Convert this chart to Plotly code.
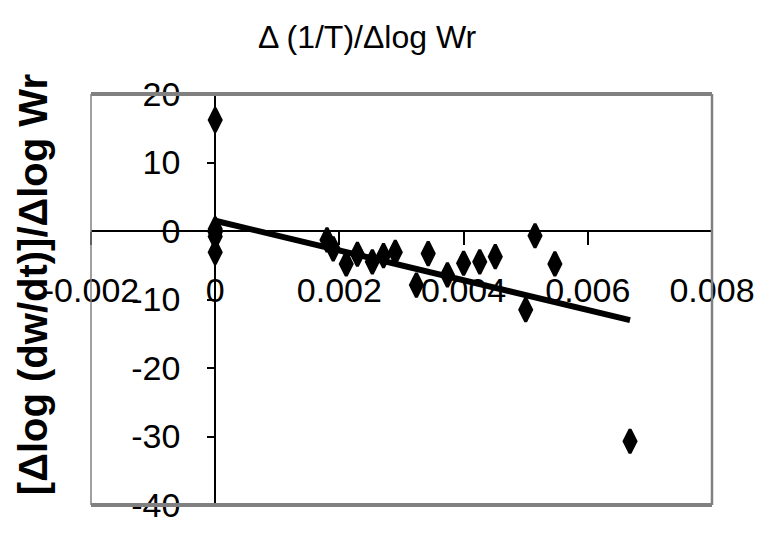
import plotly.graph_objects as go

# Data
x_vals = [0.0, 0.0, 0.0, 0.0, 0.0,
          0.00180, 0.00190, 0.00211, 0.00229, 0.00253, 0.00271, 0.00290,
          0.00324, 0.00343, 0.00374, 0.00400, 0.00426, 0.00451,
          0.00500, 0.00515, 0.00547,
          0.00668]
y_vals = [16.2, 0.3, -0.2, -0.8, -3.1,
          -1.3, -2.6, -4.8, -3.4, -4.5, -3.6, -3.1,
          -7.9, -3.3, -6.4, -4.7, -4.5, -3.75,
          -11.5, -0.7, -4.8,
          -30.7]
trend_x = [0.0, 0.00668]
trend_y = [1.5, -13.0]

x_ticks = [-0.002, 0.0, 0.002, 0.004, 0.006, 0.008]
x_tick_labels = ["-0.002", "0", "0.002", "0.004", "0.006", "0.008"]
y_ticks = [-40, -30, -20, -10, 0, 10, 20]
y_tick_labels = ["-40", "-30", "-20", "-10", "0", "10", "20"]

title_text = "Δ (1/T)/Δlog Wr"
y_title_text = "[Δlog (dw/dt)]/Δlog Wr"

FONT = "Liberation Sans, Arial"

fig = go.Figure()
fig.add_trace(go.Scatter(
    x=trend_x, y=trend_y, mode="lines",
    line=dict(color="black", width=6), showlegend=False, hoverinfo="skip"))
fig.add_trace(go.Scatter(
    x=x_vals, y=y_vals, mode="markers",
    marker=dict(symbol="diamond-tall", size=17, color="black",
                line=dict(color="black", width=3)),
    showlegend=False))

fig.update_layout(
    width=766, height=535, autosize=False,
    margin=dict(l=91, r=44, t=94, b=11),
    paper_bgcolor="white", plot_bgcolor="white",
    font=dict(family=FONT, size=34, color="black"),
    xaxis=dict(range=[-0.002, 0.008], domain=[0, 1], anchor="free", position=2/3,
               tickmode="array", tickvals=x_ticks, ticktext=x_tick_labels,
               ticks="outside", ticklen=13, tickwidth=2, tickcolor="black",
               ticklabelstandoff=16, ticklabeloverflow="allow",
               showline=True, linecolor="black", linewidth=2,
               showgrid=False, zeroline=False,
               tickfont=dict(family=FONT, size=34, color="black")),
    yaxis=dict(range=[-40, 20], domain=[0, 1], anchor="free", position=0.2,
               tickmode="array", tickvals=y_ticks, ticktext=y_tick_labels,
               ticks="outside", ticklen=7, tickwidth=2, tickcolor="black",
               ticklabelstandoff=20, ticklabeloverflow="allow",
               showline=True, linecolor="black", linewidth=2,
               showgrid=False, zeroline=False,
               tickfont=dict(family=FONT, size=34, color="black")),
    shapes=[
        dict(type="line", xref="paper", yref="paper", x0=0, x1=1, y0=1, y1=1,
             line=dict(color="#808080", width=4)),
        dict(type="line", xref="paper", yref="paper", x0=0, x1=1, y0=0, y1=0,
             line=dict(color="#808080", width=4)),
        dict(type="line", xref="paper", yref="paper", x0=0, x1=0, y0=0, y1=1,
             line=dict(color="#808080", width=1.5)),
        dict(type="line", xref="paper", yref="paper", x0=1, x1=1, y0=0, y1=1,
             line=dict(color="#808080", width=2.5)),
    ],
    annotations=[
        dict(text=title_text, xref="paper", yref="paper",
             x=(372 - 91) / 631, y=1 + (94 - 34) / 430,
             xanchor="center", yanchor="middle", showarrow=False,
             font=dict(family=FONT, size=32, color="black")),
        dict(text="<b>" + y_title_text + "</b>", xref="paper", yref="paper",
             x=(32 - 91) / 631, y=(524 - 293) / 430, textangle=-90,
             xanchor="center", yanchor="middle", showarrow=False,
             font=dict(family=FONT, size=40, color="black")),
    ],
)

fig.write_html("out.html",
               config={"responsive": False, "displayModeBar": False},
               post_script="document.body.style.margin='0px';"
                           "document.body.style.overflow='hidden';")
